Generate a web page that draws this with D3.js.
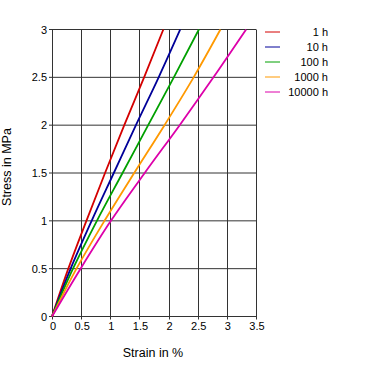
<!DOCTYPE html>
<html lang="en">
<head>
<meta charset="utf-8"/>
<title>Isochronous stress-strain curves</title>
<script src="https://d3js.org/d3.v7.min.js"></script>
<style>
  body { margin: 0; background: #fff; }
  text { font-family: "Liberation Sans", Arial, sans-serif; fill: #000; }
</style>
</head>
<body>
<div id="chart"></div>
<script>
// data
var stress = [0, 0.5, 1, 1.5, 2, 2.5, 3];
var labels = ["1 h", "10 h", "100 h", "1000 h", "10000 h"];
var colours = ["#d40000", "#000099", "#00a000", "#ff9900", "#dd00aa"];
var strain1 = [0, 0.28, 0.59, 0.91, 1.24, 1.58, 1.91];
var strain10 = [0, 0.32, 0.68, 1.06, 1.44, 1.83, 2.2];
var strain100 = [0, 0.36, 0.77, 1.21, 1.65, 2.09, 2.52];
var strain1000 = [0, 0.42, 0.9, 1.41, 1.93, 2.43, 2.89];
var strain10000 = [0, 0.49, 1.01, 1.59, 2.19, 2.77, 3.33];
var xTicks = [0, 0.5, 1, 1.5, 2, 2.5, 3, 3.5];
var yTicks = [0, 0.5, 1, 1.5, 2, 2.5, 3];

var series = [strain1, strain10, strain100, strain1000, strain10000];

var w = 376;
var h = 377;

var svg = d3.select("#chart")
            .append("svg")
            .attr("width", w)
            .attr("height", h);

var xScale = d3.scaleLinear().domain([0, 3.5]).range([52, 256]);
var yScale = d3.scaleLinear().domain([0, 3]).range([316.5, 29.5]);

// grid
svg.append("g")
   .selectAll("line")
   .data(xTicks)
   .enter()
   .append("line")
   .attr("x1", function (d) { return Math.round(xScale(d)) + 0.5; })
   .attr("x2", function (d) { return Math.round(xScale(d)) + 0.5; })
   .attr("y1", yScale(3))
   .attr("y2", yScale(0) + 3)
   .attr("stroke", "#333")
   .attr("stroke-width", 1);

svg.append("g")
   .selectAll("line")
   .data(yTicks)
   .enter()
   .append("line")
   .attr("x1", xScale(0) - 3)
   .attr("x2", xScale(3.5))
   .attr("y1", function (d) { return yScale(d); })
   .attr("y2", function (d) { return yScale(d); })
   .attr("stroke", "#333")
   .attr("stroke-width", 1);

// tick labels
svg.append("g")
   .selectAll("text")
   .data(xTicks)
   .enter()
   .append("text")
   .attr("x", function (d) { return xScale(d) + 1; })
   .attr("y", 329.5)
   .attr("text-anchor", "middle")
   .style("font-size", "11px")
   .text(function (d) { return d; });

svg.append("g")
   .selectAll("text")
   .data(yTicks)
   .enter()
   .append("text")
   .attr("x", 47)
   .attr("y", function (d) { return yScale(d) + 4; })
   .attr("text-anchor", "end")
   .style("font-size", "11px")
   .text(function (d) { return d; });

// axis titles
svg.append("text")
   .attr("x", 153)
   .attr("y", 357)
   .attr("text-anchor", "middle")
   .style("font-size", "12.5px")
   .text("Strain in %");

svg.append("text")
   .attr("transform", "translate(11,167) rotate(-90)")
   .attr("text-anchor", "middle")
   .style("font-size", "12.5px")
   .text("Stress in MPa");

// curves
var line = d3.line()
             .x(function (d) { return xScale(d[0]); })
             .y(function (d) { return yScale(d[1]); })
             .curve(d3.curveMonotoneY);

svg.append("g")
   .selectAll("path")
   .data(series)
   .enter()
   .append("path")
   .attr("d", function (s) { return line(s.map(function (v, i) { return [v, stress[i]]; })); })
   .attr("fill", "none")
   .attr("stroke", function (d, i) { return colours[i]; })
   .attr("stroke-width", 1.8);

// legend
var legend = svg.append("g")
                .selectAll("g")
                .data(labels)
                .enter()
                .append("g")
                .attr("transform", function (d, i) { return "translate(0," + (32 + i * 15) + ")"; });

legend.append("line")
      .attr("x1", 265)
      .attr("x2", 280)
      .attr("stroke", function (d, i) { return colours[i]; })
      .attr("stroke-width", 1);

legend.append("text")
      .attr("x", 328)
      .attr("y", 4)
      .attr("text-anchor", "end")
      .style("font-size", "11px")
      .text(function (d) { return d; });
</script>
</body>
</html>
